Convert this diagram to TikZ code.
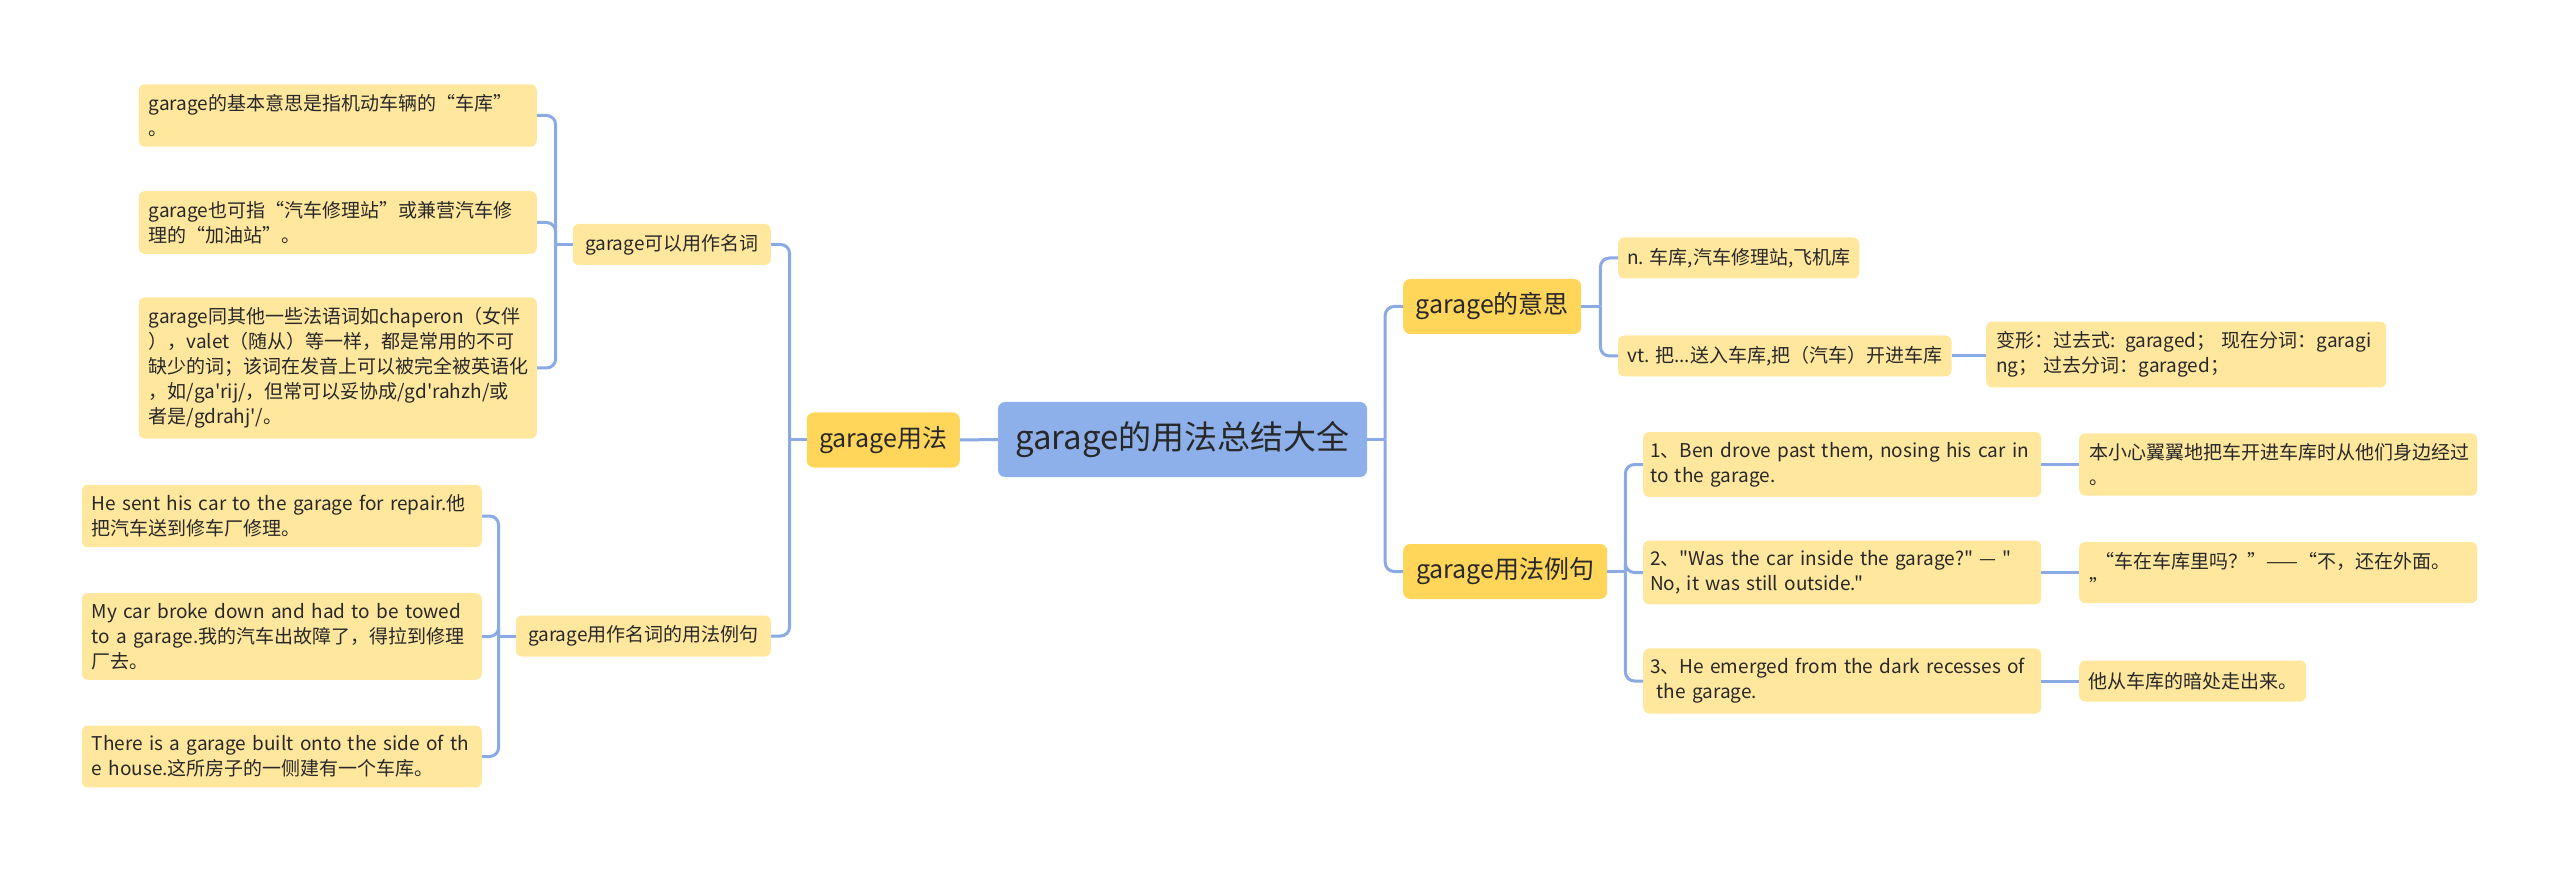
\documentclass[tikz,border=0pt]{standalone}
\usepackage{fontspec}
\setmainfont{Noto Sans CJK SC}[Ligatures=TeXOff]
\usetikzlibrary{positioning,calc}
\definecolor{linkblue}{RGB}{138,170,228}
\definecolor{rootblue}{RGB}{141,176,235}
\definecolor{gold}{RGB}{255,213,90}
\definecolor{cream}{RGB}{255,231,158}
\definecolor{ink}{RGB}{40,40,40}

\begin{document}
\begin{tikzpicture}[x=1pt,y=-1pt,
    rootbox/.style={fill=rootblue,rounded corners=7pt,text=ink,font=\fontsize{33}{38}\selectfont,
      minimum width=369pt,minimum height=75pt,inner sep=0pt},
    branch/.style={fill=gold,rounded corners=7pt,text=ink,font=\fontsize{25}{30}\selectfont,
      minimum height=55pt,inner xsep=10pt},
    sub/.style={fill=cream,rounded corners=6pt,text=ink,font=\fontsize{19}{25}\selectfont,
      minimum height=41pt,inner xsep=9pt},
    leaf/.style={fill=cream,rounded corners=6pt,text=ink,font=\fontsize{19}{25}\selectfont,
      align=left,inner xsep=10pt,inner ysep=10pt,text width=378pt},
    link/.style={draw=linkblue,line width=3pt,rounded corners=9pt}]
  \useasboundingbox (0,0) rectangle (2560,874);

  % centre
  \node[rootbox] (root) at (1182.5,439.5) {garage的用法总结大全};

  % left half
  \node[branch,anchor=east,minimum width=153pt] (yongfa) at (960,440) {garage用法};
  \node[sub,anchor=east,minimum width=198pt] (mingci) at (771,244.5) {garage可以用作名词};
  \node[sub,anchor=east,minimum width=255pt] (lijuL) at (771,636) {garage用作名词的用法例句};

  \foreach \nm/\y/\txt in {
      L1/115.5/{garage的基本意思是指机动车辆的“车库”\\。},
      L2/222.5/{garage也可指“汽车修理站”或兼营汽车修\\理的“加油站”。},
      L3/368/{garage同其他一些法语词如chaperon（女伴\\），valet（随从）等一样，都是常用的不可\\缺少的词；该词在发音上可以被完全被英语化\\，如/ga'rij/，但常可以妥协成/gd'rahzh/或\\者是/gdrahj'/。}}
    \node[leaf,anchor=east] (\nm) at (537,\y) {\txt};

  \foreach \nm/\y/\txt in {
      L4/516/{He sent his car to the garage for repair.他\\把汽车送到修车厂修理。},
      L5/636.5/{My car broke down and had to be towed\\to a garage.我的汽车出故障了，得拉到修理\\厂去。},
      L6/756.5/{There is a garage built onto the side of th\\e house.这所房子的一侧建有一个车库。}}
    \node[leaf,anchor=east,text width=380pt] (\nm) at (482,\y) {\txt};

  % right half
  \node[branch,anchor=west,minimum width=178pt] (yisi) at (1403,306.5) {garage的意思};
  \node[branch,anchor=west,minimum width=204pt] (lijuR) at (1403,571.5) {garage用法例句};
  \node[sub,anchor=west,minimum width=239pt] (nn) at (1618,258) {n. 车库,汽车修理站,飞机库};
  \node[sub,anchor=west,minimum width=333pt] (vt) at (1618,356) {vt. 把...送入车库,把（汽车）开进车库};
  \node[leaf,anchor=west,text width=380pt] (bianxing) at (1986,354.5)
    {变形：过去式: garaged； 现在分词：garagi\\ng； 过去分词：garaged；};

  \foreach \nm/\y/\txt in {
      ex1/464.5/{1、Ben drove past them, nosing his car in\\to the garage.},
      ex2/572.5/{2、"Was the car inside the garage?" — "\\No, it was still outside."},
      ex3/681/{3、He emerged from the dark recesses of\\\ the garage.}}
    \node[leaf,anchor=west,inner xsep=7pt,text width=384pt] (\nm) at (1643,\y) {\txt};

  \node[leaf,anchor=west] (tr1) at (2079,464.5) {本小心翼翼地把车开进车库时从他们身边经过\\。};
  \node[leaf,anchor=west] (tr2) at (2079,572.5) {\ “车在车库里吗？”——“不，还在外面。\\”};
  \node[sub,anchor=west,minimum width=227pt] (tr3) at (2079,681) {他从车库的暗处走出来。};

  % connectors
  \draw[link] (root.west) -- (yongfa.east);
  \coordinate (jR) at ([xshift=18pt]root.east);
  \draw[link] (root.east) -- (jR);
  \foreach \nm in {yisi,lijuR}
    \draw[link] (jR) |- (\nm.west);

  \coordinate (jL) at ([xshift=-17pt]yongfa.west);
  \draw[link] (yongfa.west) -- (jL);
  \foreach \nm in {mingci,lijuL}
    \draw[link] (jL) |- (\nm.east);

  \coordinate (jM) at ([xshift=-17pt]mingci.west);
  \draw[link] (mingci.west) -- (jM);
  \foreach \nm in {L1,L2,L3}
    \draw[link] (jM) |- (\nm.east);

  \coordinate (jE) at ([xshift=-17pt]lijuL.west);
  \draw[link] (lijuL.west) -- (jE);
  \foreach \nm in {L4,L5,L6}
    \draw[link] (jE) |- (\nm.east);

  \coordinate (jY) at ([xshift=19pt]yisi.east);
  \draw[link] (yisi.east) -- (jY);
  \foreach \nm in {nn,vt}
    \draw[link] (jY) |- (\nm.west);
  \draw[link] (vt.east) -- (vt.east -| bianxing.west);

  \coordinate (jX) at ([xshift=18pt]lijuR.east);
  \draw[link] (lijuR.east) -- (jX);
  \foreach \nm in {ex1,ex2,ex3}
    \draw[link] (jX) |- (\nm.west);
  \foreach \a/\b in {ex1/tr1,ex2/tr2,ex3/tr3}
    \draw[link] (\a.east) -- (\a.east -| \b.west);
\end{tikzpicture}
\end{document}
